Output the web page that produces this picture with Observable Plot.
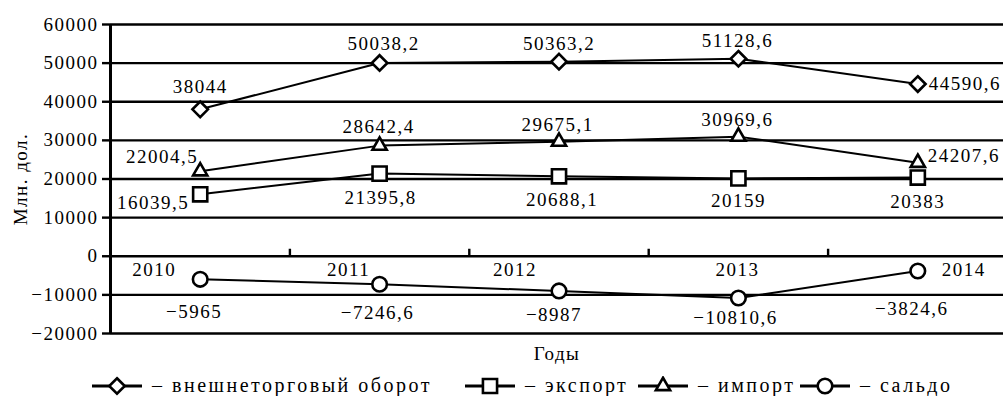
<!DOCTYPE html>
<html><head><meta charset="utf-8">
<script src="https://cdn.jsdelivr.net/npm/d3@7"></script>
<script src="https://cdn.jsdelivr.net/npm/@observablehq/plot@0.6"></script>
<style>
body{margin:0;background:#fff;width:1003px;height:396px;overflow:hidden;}
#chart svg, #chart svg text{font-family:"Liberation Serif","Times New Roman",Tinos,"DejaVu Serif",serif !important;}
#chart svg text{letter-spacing:1.5px;}
#legend{position:relative;height:30px;font-family:"Liberation Serif","Times New Roman",Tinos,"DejaVu Serif",serif;font-size:20px;letter-spacing:2.5px;color:#000;}
#legend .it{position:absolute;top:8px;display:flex;align-items:center;white-space:nowrap;}
#legend svg{margin-right:10px;}
</style></head><body>
<div id="chart"></div>
<div id="legend"></div>
<script>
// ---- data ----
const years = [2010, 2011, 2012, 2013, 2014];
const turnover = [38044, 50038.2, 50363.2, 51128.6, 44590.6];
const exportsV = [16039.5, 21395.8, 20688.1, 20159, 20383];
const importsV = [22004.5, 28642.4, 29675.1, 30969.6, 24207.6];
const balance = [-5965, -7246.6, -8987, -10810.6, -3824.6];
const seriesNames = ["внешнеторговый оборот", "экспорт", "импорт", "сальдо"];
const yTicks = [-20000, -10000, 0, 10000, 20000, 30000, 40000, 50000, 60000];
const yLabel = "Млн. дол.";
const xLabel = "Годы";

// ---- layout (label placement, px offsets from point) ----
const seriesStyle = [
  {values: turnover, symbol: "diamond2", r: 7},
  {values: exportsV, symbol: "square2", r: 9},
  {values: importsV, symbol: "triangle2", r: 6.8},
  {values: balance, symbol: "circle", r: 7.3}
];
const labelPos = [
  [[0,-22,"middle"],[4,-19.5,"middle"],[0,-18,"middle"],[-1,-18,"middle"],[11,0,"start"]],
  [[-11,9,"end"],[1,24,"middle"],[3,24,"middle"],[0,23,"middle"],[0,24,"middle"]],
  [[-38,-14,"middle"],[-1,-19,"middle"],[-1.5,-17,"middle"],[-1,-17,"middle"],[10,-7,"start"]],
  [[-6,33,"middle"],[-2,29,"middle"],[-5,24,"middle"],[-3,20,"middle"],[-6,38,"middle"]]
];
const yearLabelDx = [-46, -31, -44, -1, 46];

const fmt = v => (v < 0 ? "\u2212" : "") + String(Math.abs(v)).replace(".", ",");
const FONT = "Liberation Serif, Times New Roman, Tinos, DejaVu Serif, serif";

const marks = [];
marks.push(Plot.ruleY(yTicks, {y: d => d, stroke: "#000", strokeWidth: 2.4}));
marks.push(Plot.ruleX([years[0] - 0.5], {x: d => d, stroke: "#000", strokeWidth: 3}));
marks.push(Plot.axisY({ticks: yTicks, tickSize: 8, tickPadding: 4, strokeWidth: 2.4, tickFormat: fmt, label: null, fontSize: 19, fill: "#000"}));
marks.push(Plot.ruleX(years.slice(1).map(d => d - 0.5), {x: d => d, y1: () => 0, y2: () => 0, insetBottom: 7, insetTop: 0, stroke: "#000", strokeWidth: 2.4}));
years.forEach((yr, i) => {
  marks.push(Plot.text([yr], {x: d => d, y: () => 0, text: d => String(d), dx: yearLabelDx[i], dy: 14, fontSize: 19, fill: "#000"}));
});
seriesStyle.forEach((s, si) => {
  const rows = years.map((yr, i) => ({year: yr, value: s.values[i]}));
  marks.push(Plot.line(rows, {x: "year", y: "value", stroke: "#000", strokeWidth: 2}));
});
seriesStyle.forEach((s, si) => {
  const rows = years.map((yr, i) => ({year: yr, value: s.values[i]}));
  marks.push(Plot.dot(rows, {x: "year", y: "value", symbol: () => s.symbol, r: s.r, fill: "#fff", stroke: "#000", strokeWidth: 2.6}));
  rows.forEach((row, i) => {
    const [dx, dy, anchor] = labelPos[si][i];
    marks.push(Plot.text([row], {x: "year", y: "value", text: d => fmt(d.value), dx, dy, textAnchor: anchor, fontSize: 19, fill: "#000"}));
  });
});
marks.push(Plot.text([yLabel], {frameAnchor: "left", textAnchor: "middle", lineAnchor: "middle", rotate: -90, dx: -90, text: d => d, fontSize: 19, fill: "#000"}));
marks.push(Plot.text([xLabel], {frameAnchor: "bottom", textAnchor: "middle", lineAnchor: "middle", dy: 20, text: d => d, fontSize: 19, fill: "#000"}));

const chart = Plot.plot({
  width: 1003,
  height: 366,
  marginTop: 24,
  marginBottom: 33,
  marginLeft: 110,
  marginRight: 0,
  x: {type: "linear", domain: [years[0] - 0.5, years[years.length - 1] + 0.5], range: [110, 1007], axis: null},
  y: {domain: [yTicks[0], yTicks[yTicks.length - 1]], axis: null},
  symbol: {type: "identity"},
  style: {fontFamily: FONT, fontSize: "19px", background: "#fff", color: "#000"},
  marks
});
document.getElementById("chart").appendChild(chart);

// ---- legend ----
const legendLeft = [92, 465, 638, 800];
const legend = document.getElementById("legend");
seriesStyle.forEach((s, si) => {
  const it = document.createElement("div");
  it.className = "it";
  it.style.left = legendLeft[si] + "px";
  const sym = {diamond2: d3.symbolDiamond2, square2: d3.symbolSquare2, triangle2: d3.symbolTriangle2, circle: d3.symbolCircle}[s.symbol];
  const path = d3.symbol(sym, Math.PI * s.r * s.r)();
  it.innerHTML = `<svg width="50" height="20" viewBox="0 0 50 20"><line x1="0" x2="50" y1="10" y2="10" stroke="#000" stroke-width="3"/><path transform="translate(25,10)" d="${path}" fill="#fff" stroke="#000" stroke-width="2.6"/></svg><span>\u2013 ${seriesNames[si]}</span>`;
  legend.appendChild(it);
});
</script></body></html>
